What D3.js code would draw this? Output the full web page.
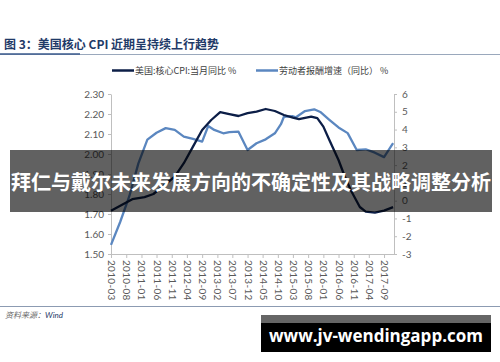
<!DOCTYPE html>
<html>
<head>
<meta charset="utf-8">
<title>美国核心CPI近期呈持续上行趋势</title>
<script src="https://d3js.org/d3.v7.min.js"></script>
<style>
    body {
        margin: 0;
        background: #fff;
    }
    svg {
        display: block;
        font-family: Lato, "Noto Sans CJK SC", sans-serif;
    }
</style>
</head>
<body>
<div id="chart"></div>
<script>
    // 美国:核心CPI:当月同比 (left axis)
    const cpiDates = ["2010-03", "2010-08", "2010-10", "2011-02", "2011-05", "2011-08", "2011-12", "2012-03",
        "2012-06", "2012-09", "2012-12", "2013-03", "2013-06", "2013-09", "2013-12", "2014-03", "2014-06",
        "2014-09", "2014-12", "2015-03", "2015-05", "2015-09", "2015-11", "2016-01", "2016-03", "2016-06",
        "2016-08", "2016-10", "2017-01", "2017-03", "2017-06", "2017-09", "2017-12"];
    const cpiValues = [1.716, 1.757, 1.774, 1.784, 1.80, 1.837, 1.887, 1.954,
        2.037, 2.12, 2.17, 2.209, 2.199, 2.19, 2.204, 2.212, 2.225,
        2.215, 2.195, 2.182, 2.174, 2.187, 2.179, 2.137, 2.07, 1.97,
        1.89, 1.82, 1.735, 1.712, 1.707, 1.717, 1.734];

    // 劳动者报酬增速（同比） (right axis)
    const payDates = ["2010-03", "2010-06", "2010-09", "2010-12", "2011-03", "2011-06", "2011-09", "2011-12",
        "2012-03", "2012-06", "2012-09", "2012-11", "2013-01", "2013-04", "2013-06", "2013-09", "2013-12",
        "2014-03", "2014-06", "2014-09", "2014-11", "2014-12", "2015-03", "2015-04", "2015-07", "2015-10",
        "2015-12", "2016-03", "2016-06", "2016-09", "2016-12", "2017-03", "2017-06", "2017-09", "2017-12"];
    const payValues = [-2.49, -1.2, 0.25, 2.10, 3.43, 3.82, 4.08, 3.98,
        3.60, 3.47, 3.32, 4.20, 3.98, 3.79, 3.85, 3.88, 2.85,
        3.23, 3.45, 3.79, 4.30, 4.72, 4.75, 4.69, 5.04, 5.14,
        4.99, 4.55, 4.12, 3.80, 2.85, 2.89, 2.70, 2.45, 3.23];

    const xTickLabels = ["2010-03", "2010-08", "2011-01", "2011-06", "2011-11", "2012-04", "2012-09", "2013-02",
        "2013-07", "2013-12", "2014-05", "2014-10", "2015-03", "2015-08", "2016-01", "2016-06", "2016-11",
        "2017-04", "2017-09"];
    const leftTicks = [1.5, 1.6, 1.7, 1.8, 1.9, 2.0, 2.1, 2.2, 2.3];
    const rightTicks = [-3, -2, -1, 0, 1, 2, 3, 4, 5, 6];

    const width = 500, height = 362;
    const parse = d3.timeParse("%Y-%m");

    const x = d3.scaleTime().domain([parse("2010-03"), new Date(2017, 11, 10)]).range([111, 394]);
    const yLeft = d3.scaleLinear().domain([1.5, 2.3]).range([254, 94]);
    const yRight = d3.scaleLinear().domain([-3, 6]).range([254, 94]);

    const svg = d3.select("#chart").append("svg")
        .attr("width", width)
        .attr("height", height);

    // title + rules
    svg.append("text")
        .attr("x", 4).attr("y", 49)
        .style("font-family", "'Noto Sans CJK SC'")
        .style("font-size", "12px")
        .style("font-weight", "bold")
        .style("fill", "#1f3a68")
        .text("图 3：美国核心 CPI 近期呈持续上行趋势");

    svg.append("line")
        .attr("x1", 0).attr("x2", 500).attr("y1", 54.5).attr("y2", 54.5)
        .style("stroke", "#9aa8bc").style("stroke-width", 1);
    svg.append("line")
        .attr("x1", 0).attr("x2", 80).attr("y1", 54).attr("y2", 54)
        .style("stroke", "#3a5a8c").style("stroke-width", 1.5);

    svg.append("line")
        .attr("x1", 0).attr("x2", 500).attr("y1", 306.5).attr("y2", 306.5)
        .style("stroke", "#8c9bb2").style("stroke-width", 1);

    // legend
    const legend = [
        {x: 112, color: "#0c1e47", label: "美国:核心CPI:当月同比 %"},
        {x: 256, color: "#5b87c0", label: "劳动者报酬增速（同比） %"}
    ];
    legend.forEach(l => {
        svg.append("line")
            .attr("x1", l.x).attr("x2", l.x + 22).attr("y1", 70.5).attr("y2", 70.5)
            .style("stroke", l.color).style("stroke-width", 2.5);
        svg.append("text")
            .attr("x", l.x + 23).attr("y", 74)
            .style("font-family", "'Noto Sans CJK SC'")
            .style("font-size", "9px")
            .style("fill", "#404040")
            .text(l.label);
    });

    // axes
    function styleAxis(g) {
        g.select(".domain").style("stroke", "#bfbfbf");
        g.selectAll(".tick line").style("stroke", "#bfbfbf");
        g.selectAll(".tick text").style("fill", "#595959").style("font-size", "10px")
            .style("font-family", "Lato, sans-serif");
    }

    svg.append("g")
        .attr("transform", "translate(111,0)")
        .call(d3.axisLeft(yLeft).tickValues(leftTicks).tickFormat(d3.format(".2f")).tickSize(3).tickSizeOuter(0).tickPadding(4))
        .call(styleAxis);

    svg.append("g")
        .attr("transform", "translate(394,0)")
        .call(d3.axisRight(yRight).tickValues(rightTicks).tickFormat(d => String(d)).tickSize(3).tickSizeOuter(0).tickPadding(5))
        .call(styleAxis);

    svg.append("g")
        .attr("transform", "translate(0,254)")
        .call(d3.axisBottom(x).tickValues(xTickLabels.map(parse)).tickFormat(d3.timeFormat("%Y-%m")).tickSize(4).tickSizeOuter(0))
        .call(styleAxis)
        .selectAll(".tick text")
        .attr("transform", "rotate(90)")
        .attr("x", 6)
        .attr("y", 0)
        .attr("dy", "0.35em")
        .style("text-anchor", "start")
        .style("letter-spacing", "0.3px");

    // lines
    const payData = payDates.map((d, i) => ({date: parse(d), value: payValues[i]}));
    const cpiData = cpiDates.map((d, i) => ({date: parse(d), value: cpiValues[i]}));

    svg.append("path")
        .datum(payData)
        .attr("d", d3.line().x(d => x(d.date)).y(d => yRight(d.value)))
        .style("fill", "none")
        .style("stroke", "#5b87c0")
        .style("stroke-width", 2.3)
        .style("stroke-linejoin", "round");

    svg.append("path")
        .datum(cpiData)
        .attr("d", d3.line().x(d => x(d.date)).y(d => yLeft(d.value)))
        .style("fill", "none")
        .style("stroke", "#0c1e47")
        .style("stroke-width", 2.3)
        .style("stroke-linejoin", "round");

    // source
    const src = svg.append("text")
        .attr("x", 5).attr("y", 318)
        .style("font-family", "'Noto Sans CJK SC'")
        .style("font-size", "8px")
        .style("font-style", "italic");
    src.append("tspan").style("fill", "#6a6a6a").text("资料来源：");
    src.append("tspan").style("fill", "#1f3a68").style("font-family", "Lato, sans-serif").text("Wind");

    // overlay banner
    svg.append("rect")
        .attr("x", 10).attr("y", 150).attr("width", 482).attr("height", 62)
        .style("fill", "rgba(0,0,0,0.62)");
    svg.append("text")
        .attr("x", 251).attr("y", 190)
        .style("text-anchor", "middle")
        .style("font-family", "'Noto Sans CJK SC'")
        .style("font-size", "20px")
        .style("font-weight", "bold")
        .style("fill", "#fff")
        .text("拜仁与戴尔未来发展方向的不确定性及其战略调整分析");

    // watermark
    svg.append("rect")
        .attr("x", 261).attr("y", 315).attr("width", 230).attr("height", 8)
        .style("fill", "rgba(0,0,0,0.6)");
    svg.append("rect")
        .attr("x", 261).attr("y", 323).attr("width", 230).attr("height", 29)
        .style("fill", "#000");
    svg.append("text")
        .attr("x", 376).attr("y", 342)
        .style("text-anchor", "middle")
        .style("font-family", "'Open Sans', sans-serif")
        .style("font-size", "17px")
        .style("font-weight", "bold")
        .style("fill", "#fff")
        .text("www.jv-wendingapp.com");
</script>
</body>
</html>
